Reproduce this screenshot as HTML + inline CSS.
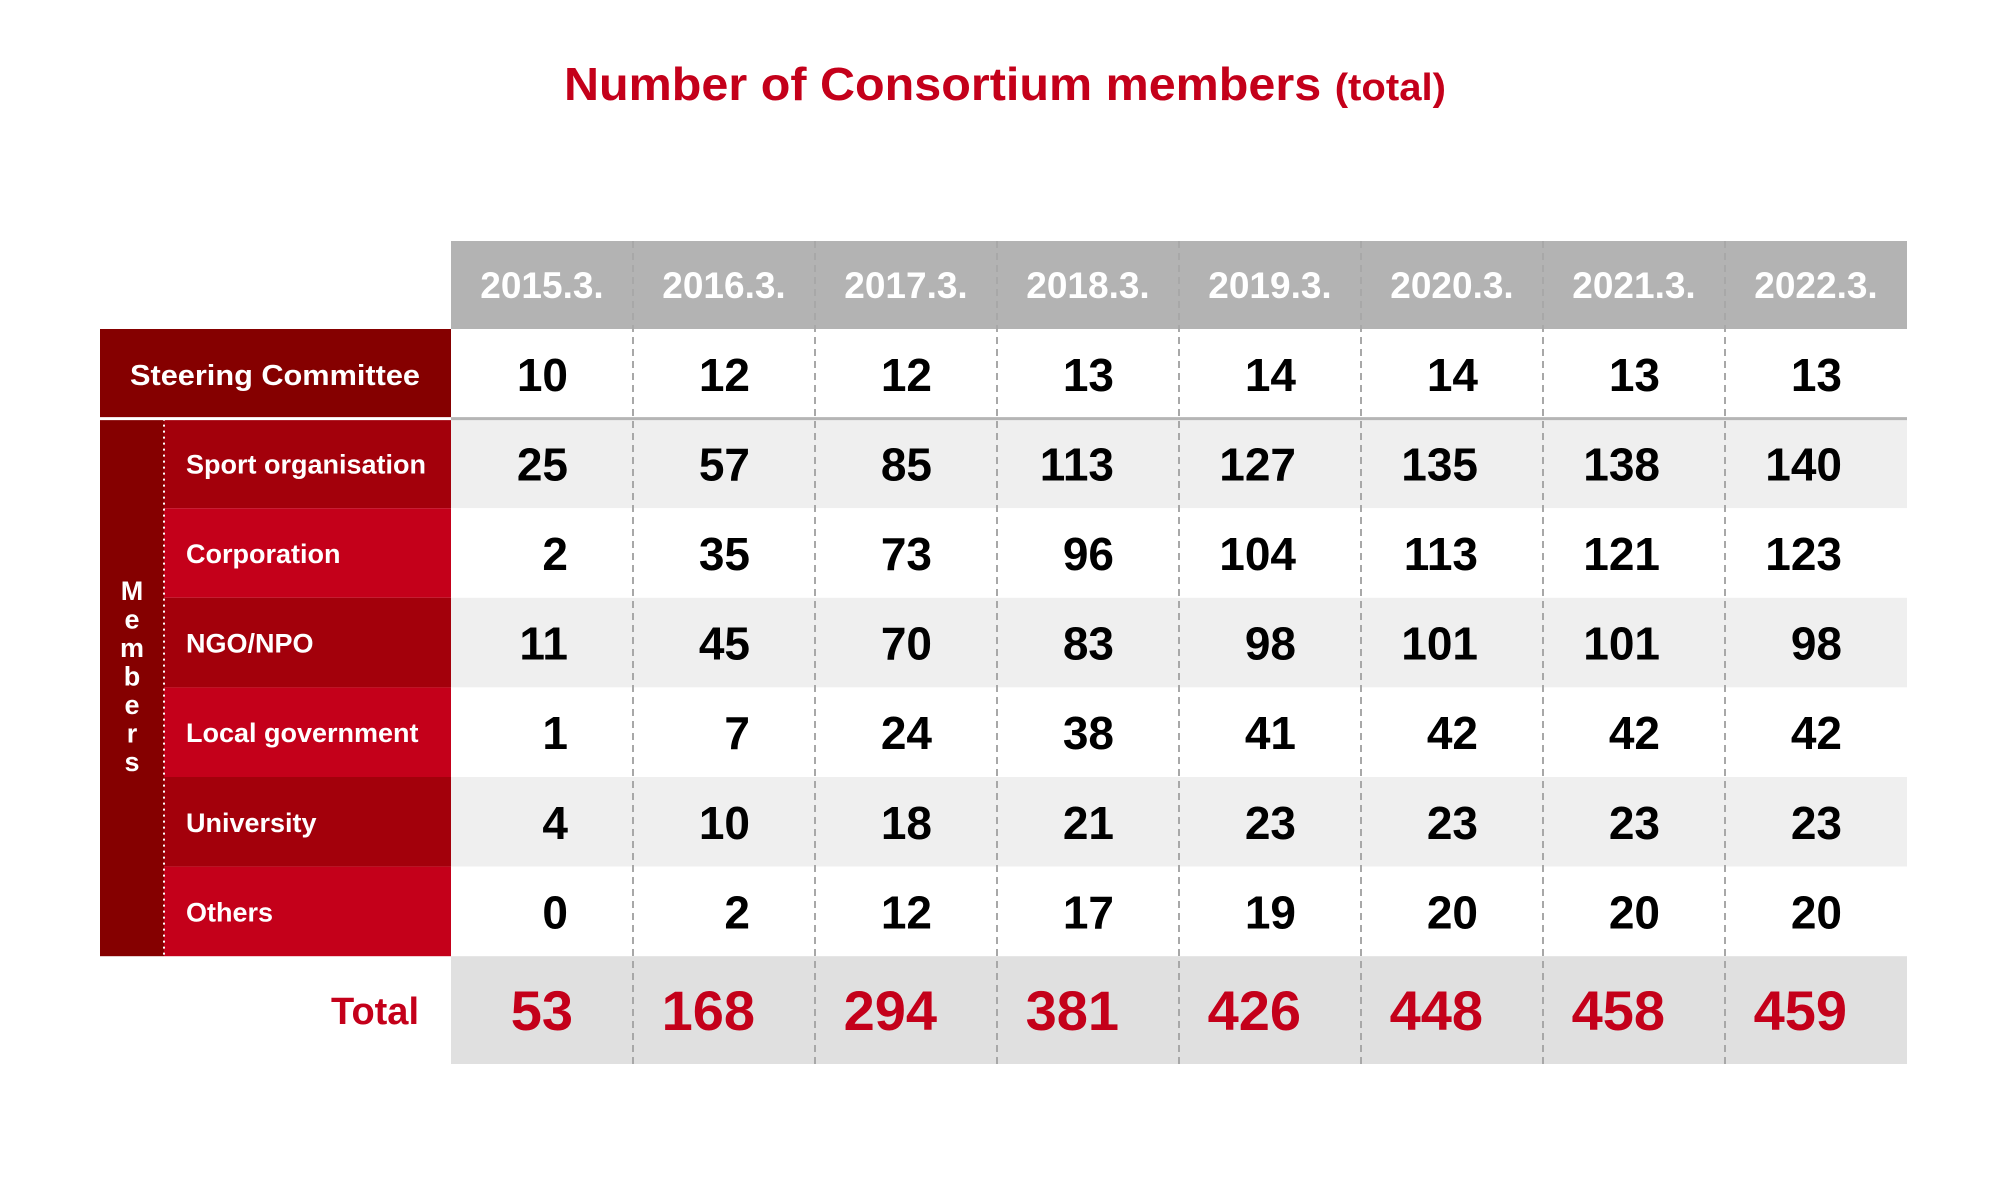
<!DOCTYPE html>
<html><head><meta charset="utf-8"><style>
html,body{margin:0;padding:0;background:#fff;}
svg{display:block;font-family:"Liberation Sans",sans-serif;font-weight:bold;}
</style></head><body>
<svg id="chart" width="2000" height="1200" viewBox="0 0 2000 1200" xmlns="http://www.w3.org/2000/svg">
<text x="1005" y="100" text-anchor="middle" fill="#c4001a" font-size="46" textLength="882" lengthAdjust="spacingAndGlyphs">Number of Consortium members <tspan font-size="38">(total)</tspan></text>
<g id="g"></g>
</svg>
<script>
const years = ["2015.3.","2016.3.","2017.3.","2018.3.","2019.3.","2020.3.","2021.3.","2022.3."];
const steering = [10,12,12,13,14,14,13,13];
const sportOrg = [25,57,85,113,127,135,138,140];
const corporation = [2,35,73,96,104,113,121,123];
const ngoNpo = [11,45,70,83,98,101,101,98];
const localGov = [1,7,24,38,41,42,42,42];
const university = [4,10,18,21,23,23,23,23];
const others = [0,2,12,17,19,20,20,20];
const totals = [53,168,294,381,426,448,458,459];
const memberLabels = ["Sport organisation","Corporation","NGO/NPO","Local government","University","Others"];
const memberSeries = [sportOrg,corporation,ngoNpo,localGov,university,others];

const NS="http://www.w3.org/2000/svg";
const g=document.getElementById('g');
function mk(tag,attrs,text){const e=document.createElementNS(NS,tag);for(const k in attrs)e.setAttribute(k,attrs[k]);if(text!==undefined)e.textContent=text;g.appendChild(e);return e;}
const colX=i=>451+i*182;
const colW=182;
const headTop=241, headBot=329;
const rowH=89.6;
const rowTop=i=>329+i*rowH; // 0 steering, 1..6 members
const totTop=rowTop(7), totBot=1064;

// header
let e=mk('rect',{x:451,y:headTop,width:colW*8,height:headBot-headTop,fill:'#b3b3b3'});


years.forEach((y,i)=>{
  const t=mk('text',{x:colX(i)+colW/2,y:(headTop+headBot)/2+13,'text-anchor':'middle',fill:'#fff','font-size':37},y);
  
  
});
// row backgrounds
for(let r=1;r<=6;r++){
  const b=mk('rect',{x:451,y:rowTop(r),width:colW*8,height:rowH,fill:(r%2===1)?'#efefef':'#fff'});
  
  
}
e=mk('rect',{x:451,y:totTop,width:colW*8,height:totBot-totTop,fill:'#e0e0e0'});


// label blocks
e=mk('rect',{x:100,y:rowTop(0),width:351,height:rowH,fill:'#850000'});


e=mk('text',{x:275,y:rowTop(0)+rowH/2+11,'text-anchor':'middle',fill:'#fff','font-size':29,textLength:290,lengthAdjust:'spacingAndGlyphs'},'Steering Committee');


e=mk('rect',{x:100,y:rowTop(1),width:64,height:rowH*6,fill:'#850000'});


"Members".split('').forEach((c,i)=>{
  const t=mk('text',{x:132,y:600+i*28.5,'text-anchor':'middle',fill:'#fff','font-size':27},c);
  
  
});
memberLabels.forEach((l,i)=>{
  const r=mk('rect',{x:164,y:rowTop(i+1),width:287,height:rowH,fill:(i%2===0)?'#a3000b':'#c4001a'});
  
  
  const t=mk('text',{x:186,y:rowTop(i+1)+rowH/2+10,fill:'#fff','font-size':27},l);
  
  
});
e=mk('line',{x1:164,y1:rowTop(1),x2:164,y2:rowTop(7),stroke:'#fff','stroke-width':2,'stroke-dasharray':'2 4'});


e=mk('line',{x1:451,y1:rowTop(1),x2:451+colW*8,y2:rowTop(1),stroke:'#b5b5b5','stroke-width':3});


e=mk('line',{x1:100,y1:rowTop(1),x2:451,y2:rowTop(1),stroke:'#fff','stroke-width':3});


// dividers
for(let i=1;i<8;i++){
  const d=mk('line',{x1:colX(i),y1:headTop,x2:colX(i),y2:totBot,stroke:'#a8a8a8','stroke-width':2,'stroke-dasharray':'7 5'});
  
  
}
// values
const allRows=[steering].concat(memberSeries);
allRows.forEach((arr,r)=>{
  arr.forEach((v,i)=>{
    const t=mk('text',{x:colX(i)+117,y:rowTop(r)+rowH/2+17,'text-anchor':'end',fill:'#000','font-size':46},String(v));
    
    
  });
});
e=mk('text',{x:419,y:(totTop+totBot)/2+14,'text-anchor':'end',fill:'#c4001a','font-size':38},'Total');


totals.forEach((v,i)=>{
  const t=mk('text',{x:colX(i)+122,y:(totTop+totBot)/2+20,'text-anchor':'end',fill:'#c4001a','font-size':56},String(v));
  
  
});
</script>
</body></html>
